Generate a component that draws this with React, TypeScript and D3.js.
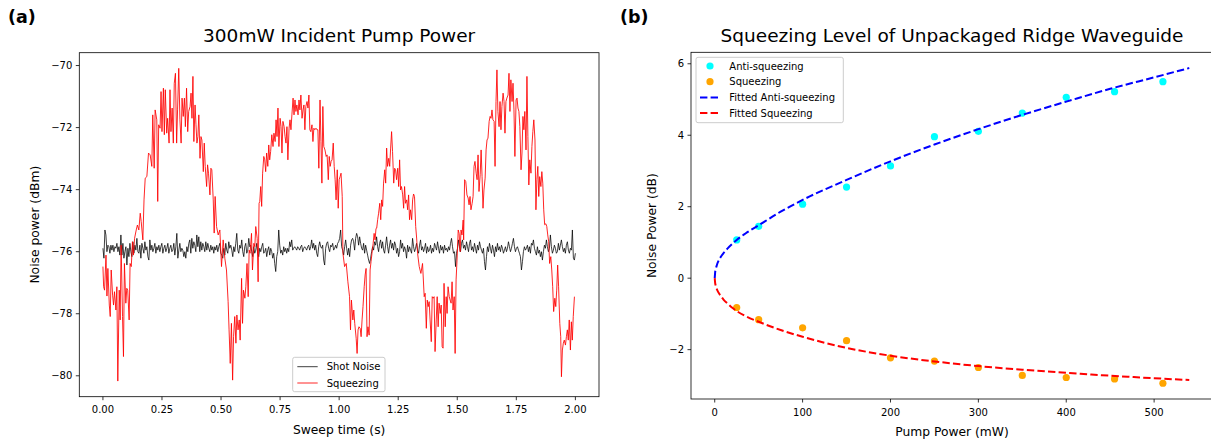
import React from 'react';
import * as d3 from 'd3';

// ---------------- Panel (a) data ----------------
// Squeezing trace: time (ms) and level (dBm)
const sqTimeMs = [
  0, 3, 7, 13, 17, 21, 27, 31, 35, 41, 45, 49, 55, 59, 63, 69, 73, 77, 83, 87,
  91, 97, 101, 105, 111, 115, 120, 125, 129, 134,
  141, 146, 152, 158, 162, 169, 174, 179, 186, 193,
  200, 207, 211, 217, 221, 228, 232, 236, 242, 246,
  250, 256, 260, 264, 270, 274, 280, 284, 288, 293,
  298, 302, 307, 312, 316, 321, 326, 331, 335, 340,
  345, 349, 354, 359, 363, 369, 373, 377, 381, 385,
  390, 394, 398, 402, 406, 411, 415, 419, 425, 429,
  433, 439, 443, 447, 453, 457, 461, 467, 471, 475,
  481, 488, 495, 502, 509, 516, 523, 530, 534, 539,
  544, 549, 553, 558, 563, 567, 572, 577, 581, 587,
  591, 595, 601, 605, 610, 615, 619, 623, 629, 633,
  639, 643, 647, 653, 657, 661, 664, 668, 672, 676,
  681, 685, 689, 693, 698, 702, 706, 710, 715, 720,
  724, 729, 733, 737, 741, 745, 750, 754, 758, 762,
  767, 771, 775, 779, 783, 788, 792, 796, 800, 805,
  809, 813, 817, 821, 826, 830, 834, 838, 843, 847,
  851, 855, 859, 864, 868, 872, 876, 880, 885, 889,
  893, 897, 902, 906, 910, 914, 919, 923, 927, 931,
  935, 940, 945, 949, 954, 958, 962, 966, 970, 975,
  979, 983, 987, 992, 996, 1000, 1004, 1008, 1013,
  1016, 1023, 1030, 1037, 1044, 1048, 1052, 1058, 1062, 1066,
  1072, 1076, 1080, 1084, 1089, 1093, 1097, 1101, 1106, 1110,
  1114, 1118, 1122, 1127, 1131, 1135, 1139, 1144, 1148, 1152,
  1156, 1159, 1163, 1167, 1172, 1176, 1180, 1184, 1188, 1193,
  1197, 1201, 1205, 1210, 1214, 1218, 1222, 1226, 1231, 1235,
  1239, 1243, 1248, 1252, 1256, 1260, 1264, 1269, 1273, 1277,
  1281, 1286, 1290, 1294, 1298, 1302, 1307, 1311, 1315, 1319,
  1324, 1328, 1332, 1339, 1346, 1353, 1360, 1364, 1369, 1373,
  1377, 1381, 1385, 1390, 1394, 1398, 1402, 1406, 1411, 1415,
  1419, 1423, 1428, 1432, 1436, 1440, 1444, 1449, 1453, 1457,
  1461, 1466, 1470, 1474, 1478, 1482, 1487, 1491, 1495, 1499,
  1504, 1508, 1512, 1516, 1520, 1525, 1527, 1531, 1536, 1541,
  1546, 1550, 1554, 1558, 1563, 1567, 1571, 1575, 1580, 1584,
  1588, 1592, 1597, 1601, 1605, 1609, 1613, 1618, 1622, 1626,
  1630, 1635, 1639, 1643, 1647, 1651, 1656, 1660, 1664, 1668,
  1672, 1677, 1681, 1685, 1689, 1694, 1698, 1702, 1706, 1710,
  1715, 1719, 1723, 1727, 1732, 1736, 1740, 1744, 1749, 1753,
  1757, 1761, 1765, 1770, 1774, 1778, 1782, 1786, 1791, 1795,
  1799, 1803, 1807, 1812, 1816, 1820, 1824, 1829, 1833, 1837,
  1841, 1845, 1849, 1854, 1858, 1862, 1866, 1870, 1875, 1879,
  1883, 1887, 1891, 1896, 1900, 1904, 1908, 1913, 1917, 1921,
  1925, 1929, 1934, 1938, 1941, 1945, 1949, 1953, 1958, 1962,
  1966, 1970, 1974, 1979, 1983, 1987, 1991, 1996,
];
const sqLevel = [
  -76.48, -77.13, -77.24, -76.11, -77.43, -76.54, -77.72, -78.09, -76.59, -77.40, -77.72, -77.29, -77.88, -77.13, -80.17, -77.24, -78.20, -75.79, -78.09, -79.38,
  -76.38, -77.66, -77.18, -77.24, -78.20, -76.38, -76.48, -75.68, -76.11, -75.57,
  -75.30, -75.14, -75.30, -74.76, -75.03, -75.62, -74.33, -73.63, -73.58, -72.82,
  -72.88, -73.25, -71.59, -73.31, -71.43, -71.75, -74.38, -71.91, -72.02, -70.84,
  -72.13, -70.73, -72.23, -70.78, -72.18, -71.70, -72.50, -70.78, -72.13, -71.37,
  -72.50, -70.57, -70.25, -72.50, -71.43, -70.09, -71.75, -72.50, -71.05, -71.64,
  -71.05, -71.97, -70.73, -72.13, -71.48, -71.32, -70.89, -71.70, -70.35, -72.45,
  -71.27, -71.91, -72.50, -72.29, -71.59, -72.99, -72.29, -72.40, -73.42, -72.50,
  -73.25, -73.90, -73.20, -73.47, -74.17, -73.31, -73.36, -74.33, -75.40, -74.22,
  -75.19, -75.46, -75.30, -76.48, -75.62, -76.21, -76.59, -77.61, -78.52, -79.60,
  -78.31, -80.14, -78.74, -78.09, -78.95, -78.04, -78.52, -78.20, -78.85, -76.86,
  -78.31, -77.24, -77.50, -77.13, -76.38, -77.45, -75.95, -76.05, -75.41, -76.59,
  -75.73, -75.84, -75.19, -75.57, -76.97, -74.44, -74.38, -73.90, -74.54, -73.47,
  -72.93, -73.04, -73.42, -72.82, -73.25, -72.56, -73.04, -72.77, -72.23, -72.61,
  -72.18, -72.45, -71.75, -72.29, -71.37, -72.61, -71.70, -71.97, -72.82, -71.80,
  -71.97, -72.29, -72.50, -71.97, -73.04, -72.02, -71.75, -72.07, -71.59, -71.05,
  -71.59, -71.11, -71.48, -71.27, -71.59, -71.11, -71.43, -70.95, -71.70, -71.43,
  -71.27, -72.07, -71.32, -71.16, -71.37, -70.95, -72.07, -72.13, -71.91, -72.45,
  -72.02, -72.07, -72.02, -72.07, -72.07, -73.31, -71.11, -72.45, -73.79, -71.32,
  -72.61, -72.72, -72.93, -72.88, -73.68, -72.93, -73.25, -73.09, -73.04, -72.50,
  -73.25, -73.68, -74.33, -73.36, -74.60, -73.68, -73.58, -73.47, -74.22,
  -76.05, -76.48, -76.38, -76.97, -77.45, -78.52, -77.56, -78.20, -77.88, -78.31,
  -78.79, -79.28, -78.52, -78.42, -78.47, -78.74, -78.20, -77.77, -77.13, -76.75,
  -76.54, -78.74, -78.42, -78.69, -76.59, -76.32, -76.05, -75.73, -75.41, -75.62,
  -75.25, -75.24, -74.97, -74.76, -74.44, -74.97, -74.33, -74.54, -73.79, -73.36,
  -73.79, -72.66, -73.25, -72.99, -73.25, -72.66, -72.13, -72.77, -73.79, -73.31,
  -73.36, -73.68, -73.31, -73.90, -73.04, -74.01, -73.90, -74.17, -74.60, -73.90,
  -74.44, -74.33, -74.65, -74.17, -74.97, -74.65, -74.97, -74.33, -74.14, -74.22,
  -75.19, -75.56, -76.05, -76.48, -76.70, -76.38, -77.45, -77.34, -78.47, -77.56,
  -77.77, -77.61, -78.20, -78.90, -77.45, -77.50, -77.45, -79.22, -78.20, -77.45,
  -78.42, -77.66, -77.99, -77.72, -79.06, -79.11, -77.02, -78.42, -77.45, -77.99,
  -77.13, -77.45, -77.56, -77.66, -76.97, -77.88, -77.45, -79.28, -76.91, -76.27,
  -75.30, -75.41, -76.00, -75.30, -75.46, -74.98, -75.62, -73.68, -73.74, -74.17,
  -74.27, -74.49, -74.22, -74.65, -74.44, -74.22, -73.25, -73.09, -73.47, -73.68,
  -72.88, -74.06, -73.52, -72.72, -73.58, -74.60, -74.01, -73.63, -72.72, -72.40,
  -72.34, -71.80, -71.64, -71.70, -71.43, -71.75, -71.80, -73.25, -71.16, -70.14,
  -71.48, -71.97, -71.16, -72.07, -71.32, -70.89, -71.16, -72.18, -71.16, -71.05,
  -70.95, -70.25, -71.48, -70.46, -71.16, -70.57, -71.43, -72.93, -71.11, -71.05,
  -71.37, -71.48, -71.97, -73.36, -72.82, -71.64, -72.07, -71.48, -72.72, -70.35,
  -72.29, -73.85, -73.04, -73.47, -72.61, -72.13, -71.75, -72.40, -74.65, -73.68,
  -73.25, -74.22, -73.58, -73.90, -73.42, -73.79, -74.65, -75.13, -75.10, -75.19,
  -75.46, -75.68, -76.38, -76.16, -76.59, -77.13, -77.93, -77.50, -77.77, -77.24,
  -76.43, -77.13, -78.31, -78.74, -80.03, -79.17, -78.95, -78.85, -79.01, -78.74,
  -78.52, -78.85, -78.20, -79.17, -78.26, -78.85, -78.09, -77.45,
];

// Shot noise trace (dBm), sampled uniformly over 0 … 2 s
const shotLevel = [
  -75.89, -76.21, -75.30, -75.46, -76.00, -75.79, -75.84, -76.05, -75.79, -75.95,
  -75.79, -76.00, -75.84, -75.89, -75.73, -76.00, -75.84, -76.11, -75.46, -76.11,
  -75.73, -76.21, -76.00, -75.84, -76.43, -75.89, -76.16, -75.73, -76.00, -76.16,
  -75.68, -76.05, -75.79, -75.95, -75.57, -76.00, -76.05, -75.79, -76.21, -75.73,
  -75.89, -76.05, -75.68, -75.95, -75.84, -76.16, -76.27, -75.62, -75.95, -75.79,
  -76.00, -75.89, -75.73, -76.05, -75.84, -75.95, -75.79, -76.00, -75.84, -75.73,
  -76.05, -75.89, -75.79, -76.00, -75.89, -75.73, -76.05, -75.89, -75.79, -76.00,
  -75.95, -75.73, -76.11, -75.84, -75.41, -76.21, -75.95, -75.73, -76.00, -75.89,
  -75.95, -76.16, -76.00, -76.21, -75.84, -76.00, -75.73, -75.62, -76.05, -75.57,
  -75.89, -75.68, -75.79, -76.00, -75.46, -75.84, -75.52, -76.00, -75.68, -75.95,
  -75.73, -75.84, -76.00, -75.68, -75.95, -75.73, -75.89, -76.00, -75.79, -75.95,
  -75.84, -76.05, -75.84, -75.95, -75.79, -76.00, -75.84, -75.73, -76.05, -76.11,
  -76.21, -75.89, -76.11, -75.73, -75.95, -76.05, -75.68, -75.89, -75.79, -75.95,
  -76.16, -75.84, -76.00, -75.73, -75.41, -75.95, -76.05, -75.79, -75.89, -75.62,
  -76.00, -76.16, -75.84, -75.73, -76.05, -75.95, -75.57, -75.84, -75.79, -76.00,
  -76.16, -75.84, -76.05, -75.95, -75.73, -76.05, -76.16, -75.89, -76.00, -75.84,
  -75.73, -76.05, -76.00, -75.89, -76.16, -75.95, -75.84, -76.11, -75.89, -76.00,
  -76.21, -76.05, -76.38, -76.64, -76.16, -76.00, -75.30, -75.79, -76.05, -75.95,
  -76.11, -75.84, -76.00, -75.89, -76.05, -75.89, -76.00, -75.68, -75.84, -75.62,
  -75.95, -75.89, -75.84, -75.89, -75.95, -75.84, -75.89, -75.95, -75.84, -75.79,
  -76.00, -75.89, -75.84, -75.89, -75.95, -75.84, -75.79, -75.95, -75.84, -75.62,
  -75.89, -75.73, -75.95, -75.79, -76.05, -76.16, -75.84, -75.68, -75.84, -75.89,
  -75.79, -76.27, -76.43, -75.89, -75.73, -75.68, -75.89, -76.00, -75.79, -75.84,
  -75.73, -75.95, -75.89, -75.79, -75.89, -75.73, -75.68, -75.57, -75.30, -75.84,
  -75.95, -76.11, -75.84, -75.62, -75.89, -76.11, -75.89, -76.16, -75.79, -75.62,
  -75.57, -75.68, -75.95, -75.57, -75.41, -75.52, -75.79, -75.52,
  -75.73, -75.89, -75.95, -75.73, -76.05, -75.79, -75.95, -76.11, -76.27, -76.38,
  -76.21, -76.00, -75.84, -75.95, -75.68, -75.79, -75.52, -75.84, -76.00, -75.73,
  -75.62, -75.89, -75.68, -75.95, -76.05, -75.79, -75.52, -75.84, -76.05, -75.79,
  -75.62, -75.89, -75.73, -75.95, -75.68, -75.79, -76.05, -75.89, -76.16, -76.00,
  -75.62, -75.89, -75.73, -76.00, -75.84, -75.95, -76.21, -75.79, -76.00, -75.84,
  -75.95, -76.05, -75.57, -75.84, -76.00, -75.89, -75.73, -75.95, -76.05, -75.79,
  -75.62, -75.95, -75.84, -76.00, -75.89, -75.73, -76.05, -75.84, -76.00, -75.95,
  -75.79, -76.05, -75.89, -76.00, -75.73, -75.84, -75.95, -75.68, -75.89, -76.05,
  -75.79, -75.95, -75.84, -76.05, -75.79, -75.95, -75.89, -76.00, -75.84, -75.95,
  -75.73, -75.57, -75.84, -76.05, -76.00, -76.48, -76.05, -75.89, -75.62, -75.84,
  -76.00, -75.73, -75.62, -75.89, -75.79, -75.95, -75.68, -75.84, -76.00, -75.73,
  -75.62, -75.95, -75.84, -76.00, -75.73, -75.89, -76.05, -75.79, -75.95, -75.68,
  -75.84, -75.95, -76.05, -75.89, -76.32, -76.59, -76.16, -75.84, -76.00, -75.73,
  -75.89, -76.05, -75.79, -75.95, -76.16, -75.84, -76.00, -75.73, -75.95, -75.84,
  -76.00, -75.79, -75.89, -76.05, -75.95, -75.84, -76.00, -75.89, -75.68, -75.84,
  -76.00, -75.89, -75.73, -75.57, -75.84, -76.00, -75.89, -75.84, -75.95, -76.05,
  -76.16, -76.59, -76.32, -76.00, -75.84, -75.95, -75.89, -75.79, -76.00, -75.84,
  -76.05, -75.73, -75.79, -75.62, -75.89, -76.00, -76.11, -75.84, -76.05, -75.95,
  -76.16, -76.00, -76.27, -76.00, -75.79, -75.89, -75.62, -75.84, -76.00, -75.89,
  -75.46, -75.84, -76.05, -75.95, -75.79, -75.89, -76.05, -76.00, -75.73, -75.95,
  -75.79, -75.62, -75.84, -76.00, -75.89, -76.05, -75.79, -75.68, -75.95, -76.05,
  -75.89, -75.95, -75.30, -76.21, -76.27, -76.05,
];
const sweepStartS = 0;
const sweepEndS = 2;
const xTicksA = [0, 0.25, 0.5, 0.75, 1.0, 1.25, 1.5, 1.75, 2.0];
const yTicksA = [-80, -78, -76, -74, -72, -70];

// ---------------- Panel (b) data ----------------
const pumpPower = [25, 50, 100, 150, 200, 250, 300, 350, 400, 455, 510];
const antiSqueezing = [1.07, 1.45, 2.07, 2.55, 3.14, 3.96, 4.11, 4.62, 5.06, 5.22, 5.5];
const squeezing = [-0.82, -1.16, -1.39, -1.75, -2.23, -2.32, -2.5, -2.72, -2.78, -2.82, -2.94];
const fitPump = [0, 0.5, 1, 2, 3, 5, 7, 10, 15, 20, 25, 35, 50, 75, 100, 150, 200, 250, 300, 350, 400, 450, 500, 540];
const fitAnti = [0, 0.17, 0.24, 0.33, 0.41, 0.52, 0.6, 0.7, 0.84, 0.96, 1.07, 1.25, 1.48, 1.86, 2.19, 2.75, 3.27, 3.74, 4.17, 4.57, 4.94, 5.3, 5.62, 5.88];
const fitSq = [0, -0.14, -0.2, -0.28, -0.34, -0.43, -0.5, -0.6, -0.72, -0.83, -0.92, -1.06, -1.22, -1.45, -1.64, -1.95, -2.17, -2.33, -2.46, -2.56, -2.65, -2.73, -2.8, -2.85];
const xTicksB = [0, 100, 200, 300, 400, 500];
const yTicksB = [-2, 0, 2, 4, 6];

const FONT = "'DejaVu Sans', 'Liberation Sans', sans-serif";
const minus = (s: string) => s.replace('-', '\u2212');

function padded(lo: number, hi: number): [number, number] {
  const p = (hi - lo) * 0.05;
  return [lo - p, hi + p];
}

export default function App() {
  // ---- panel a layout
  const A = { l: 79.3, r: 599, t: 52.7, b: 396.7 };
  const xa = d3.scaleLinear().domain(padded(sweepStartS, sweepEndS)).range([A.l, A.r]);
  const allA = [...sqLevel, ...shotLevel];
  const ya = d3.scaleLinear().domain(padded(d3.min(allA)!, d3.max(allA)!)).range([A.b, A.t]);
  const shotTime = shotLevel.map((_, i) => sweepStartS + (i * (sweepEndS - sweepStartS)) / (shotLevel.length - 1));
  const lineA = d3.line<[number, number]>().x((d) => xa(d[0])).y((d) => ya(d[1]));
  const shotPath = lineA(shotTime.map((t, i) => [t, shotLevel[i]]))!;
  const sqPath = lineA(sqTimeMs.map((t, i) => [t / 1000, sqLevel[i]]))!;

  // ---- panel b layout
  const B = { l: 691, r: 1213, t: 52.3, b: 399 };
  const xb = d3.scaleLinear().domain(padded(0, d3.max(fitPump)!)).range([B.l, B.r]);
  const allB = [...antiSqueezing, ...squeezing, ...fitAnti, ...fitSq];
  const yb = d3.scaleLinear().domain(padded(d3.min(allB)!, d3.max(allB)!)).range([B.b, B.t]);
  const lineB = d3.line<[number, number]>().x((d) => xb(d[0])).y((d) => yb(d[1])).curve(d3.curveMonotoneX);
  const antiFitPath = lineB(fitPump.map((p, i) => [p, fitAnti[i]]))!;
  const sqFitPath = lineB(fitPump.map((p, i) => [p, fitSq[i]]))!;

  const tick = 3.5;
  const tickFs = 10;
  const labelFs = 12.3;
  const titleFs = 18.5;
  const titleY = 41.5;

  return (
    <svg width={1211} height={442} style={{ position: 'absolute', left: 0, top: 0, background: '#fff' }} fontFamily={FONT}>
      <rect x={0} y={0} width={1211} height={442} fill="#fff" />
      {/* ================= Panel (a) ================= */}
      <text x={8} y={23} fontSize={17.5} fontWeight="bold" fill="#000">(a)</text>
      <text x={(A.l + A.r) / 2} y={titleY} fontSize={titleFs} textAnchor="middle" fill="#000">300mW Incident Pump Power</text>
      <path d={shotPath} fill="none" stroke="#000" strokeOpacity={0.75} strokeWidth={1} strokeLinejoin="round" />
      <path d={sqPath} fill="none" stroke="#ff0000" strokeOpacity={0.85} strokeWidth={1} strokeLinejoin="round" />
      <rect x={A.l} y={A.t} width={A.r - A.l} height={A.b - A.t} fill="none" stroke="#000" strokeWidth={0.8} />
      {xTicksA.map((v) => (
        <g key={'xa' + v}>
          <line x1={xa(v)} x2={xa(v)} y1={A.b} y2={A.b + tick} stroke="#000" strokeWidth={0.8} />
          <text x={xa(v)} y={A.b + tick + 3.5 + 9.5} fontSize={tickFs} textAnchor="middle" fill="#000">{v.toFixed(2)}</text>
        </g>
      ))}
      {yTicksA.map((v) => (
        <g key={'ya' + v}>
          <line x1={A.l - tick} x2={A.l} y1={ya(v)} y2={ya(v)} stroke="#000" strokeWidth={0.8} />
          <text x={A.l - tick - 3.5} y={ya(v) + 3.6} fontSize={tickFs} textAnchor="end" fill="#000">{minus(String(v))}</text>
        </g>
      ))}
      <text x={(A.l + A.r) / 2} y={433.5} fontSize={labelFs} textAnchor="middle" fill="#000">Sweep time (s)</text>
      <text transform={`translate(38.5, ${(A.t + A.b) / 2}) rotate(-90)`} fontSize={labelFs} textAnchor="middle" fill="#000">Noise power (dBm)</text>
      {/* legend a */}
      <g>
        <rect x={292.7} y={357.3} width={92.3} height={34.4} rx={2} fill="#fff" fillOpacity={0.8} stroke="#cccccc" strokeWidth={1} />
        <line x1={297.3} x2={317.7} y1={366.7} y2={366.7} stroke="#000" strokeOpacity={0.75} strokeWidth={1} />
        <text x={326.7} y={370.3} fontSize={10} fill="#000">Shot Noise</text>
        <line x1={297.3} x2={317.7} y1={383} y2={383} stroke="#ff0000" strokeOpacity={0.85} strokeWidth={1} />
        <text x={326.7} y={386.6} fontSize={10} fill="#000">Squeezing</text>
      </g>

      {/* ================= Panel (b) ================= */}
      <text x={620} y={23} fontSize={17.5} fontWeight="bold" fill="#000">(b)</text>
      <text x={(B.l + B.r) / 2} y={titleY} fontSize={titleFs} textAnchor="middle" fill="#000">Squeezing Level of Unpackaged Ridge Waveguide</text>
      {pumpPower.map((p, i) => (
        <circle key={'a' + i} cx={xb(p)} cy={yb(antiSqueezing[i])} r={3.6} fill="#00ffff" />
      ))}
      {pumpPower.map((p, i) => (
        <circle key={'s' + i} cx={xb(p)} cy={yb(squeezing[i])} r={3.6} fill="#ffa500" />
      ))}
      <path d={antiFitPath} fill="none" stroke="#0000ff" strokeWidth={2} strokeDasharray="7.4,3.2" />
      <path d={sqFitPath} fill="none" stroke="#ff0000" strokeWidth={2} strokeDasharray="7.4,3.2" />
      <rect x={B.l} y={B.t} width={B.r - B.l} height={B.b - B.t} fill="none" stroke="#000" strokeWidth={0.8} />
      {xTicksB.map((v) => (
        <g key={'xb' + v}>
          <line x1={xb(v)} x2={xb(v)} y1={B.b} y2={B.b + tick} stroke="#000" strokeWidth={0.8} />
          <text x={xb(v)} y={B.b + tick + 3.5 + 9.5} fontSize={tickFs} textAnchor="middle" fill="#000">{String(v)}</text>
        </g>
      ))}
      {yTicksB.map((v) => (
        <g key={'yb' + v}>
          <line x1={B.l - tick} x2={B.l} y1={yb(v)} y2={yb(v)} stroke="#000" strokeWidth={0.8} />
          <text x={B.l - tick - 3.5} y={yb(v) + 3.6} fontSize={tickFs} textAnchor="end" fill="#000">{minus(String(v))}</text>
        </g>
      ))}
      <text x={(B.l + B.r) / 2} y={436} fontSize={labelFs} textAnchor="middle" fill="#000">Pump Power (mW)</text>
      <text transform={`translate(656, ${(B.t + B.b) / 2}) rotate(-90)`} fontSize={labelFs} textAnchor="middle" fill="#000">Noise Power (dB)</text>
      {/* legend b */}
      <g>
        <rect x={696} y={57.3} width={147.3} height={65.4} rx={2} fill="#fff" fillOpacity={0.8} stroke="#cccccc" strokeWidth={1} />
        <circle cx={710} cy={66} r={3.6} fill="#00ffff" />
        <text x={729.3} y={69.6} fontSize={10} fill="#000">Anti-squeezing</text>
        <circle cx={710} cy={81.7} r={3.6} fill="#ffa500" />
        <text x={729.3} y={85.3} fontSize={10} fill="#000">Squeezing</text>
        <line x1={700} x2={719.3} y1={97.4} y2={97.4} stroke="#0000ff" strokeWidth={2} strokeDasharray="7.4,3.2" />
        <text x={729.3} y={101} fontSize={10} fill="#000">Fitted Anti-squeezing</text>
        <line x1={700} x2={719.3} y1={113.1} y2={113.1} stroke="#ff0000" strokeWidth={2} strokeDasharray="7.4,3.2" />
        <text x={729.3} y={116.7} fontSize={10} fill="#000">Fitted Squeezing</text>
      </g>
    </svg>
  );
}
